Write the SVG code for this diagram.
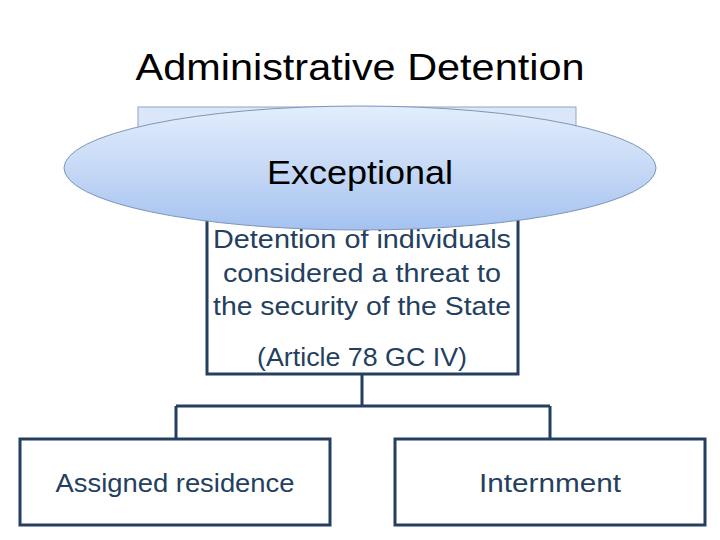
<svg xmlns="http://www.w3.org/2000/svg" width="720" height="540" viewBox="0 0 720 540">
<defs>
<linearGradient id="eg" x1="0" y1="0" x2="0" y2="1">
<stop offset="0" stop-color="#e3edfc"/>
<stop offset="0.5" stop-color="#c6d9f6"/>
<stop offset="1" stop-color="#a5c2f0"/>
</linearGradient>
<style>
.box{fill:#ffffff;stroke:#243f60;stroke-width:3}
.con{fill:none;stroke:#243f60;stroke-width:3}
.t{font-family:"Liberation Sans",Arial,sans-serif;text-anchor:middle;fill:#243f60}
</style>
</defs>
<rect width="720" height="540" fill="#ffffff"/>
<text x="360" y="80" font-family="Liberation Sans,Arial,sans-serif" font-size="36" text-anchor="middle" fill="#000000" textLength="449" lengthAdjust="spacingAndGlyphs">Administrative Detention</text>
<g id="connectors">
<path class="con" d="M362 374 V406 M176 406 H550 M176 406 V439 M550 406 V439"/>
</g>
<g id="top-rect">
<rect x="138" y="107" width="438" height="100" fill="#dbe6f8" stroke="#8ea4c4" stroke-width="1"/>
</g>
<g id="main">
<rect class="box" x="207" y="212" width="311" height="162"/>
<text class="t" x="362" y="248" font-size="25" textLength="298" lengthAdjust="spacingAndGlyphs">Detention of individuals</text>
<text class="t" x="362" y="282" font-size="25" textLength="278" lengthAdjust="spacingAndGlyphs">considered a threat to</text>
<text class="t" x="362" y="315" font-size="25" textLength="298" lengthAdjust="spacingAndGlyphs">the security of the State</text>
<text class="t" x="362" y="366" font-size="25" textLength="210" lengthAdjust="spacingAndGlyphs">(Article 78 GC IV)</text>
</g>
<g id="exceptional">
<ellipse cx="360" cy="168" rx="296" ry="62" fill="url(#eg)" stroke="#7f95b8" stroke-width="1"/>
<text x="360" y="184" font-family="Liberation Sans,Arial,sans-serif" font-size="34" text-anchor="middle" fill="#000000" textLength="186" lengthAdjust="spacingAndGlyphs">Exceptional</text>
</g>
<g id="assigned">
<rect class="box" x="20" y="439" width="310" height="86"/>
<text class="t" x="175" y="492" font-size="26" textLength="239" lengthAdjust="spacingAndGlyphs">Assigned residence</text>
</g>
<g id="internment">
<rect class="box" x="395" y="439" width="310" height="86"/>
<text class="t" x="550" y="492" font-size="26" textLength="142" lengthAdjust="spacingAndGlyphs">Internment</text>
</g>
</svg>
